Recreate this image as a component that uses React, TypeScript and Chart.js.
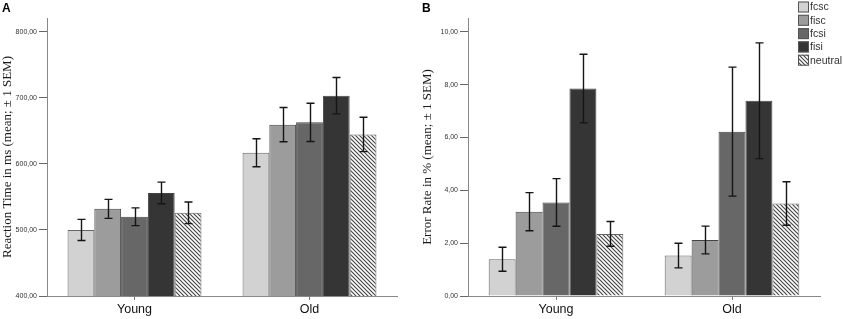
import React, { useEffect, useRef } from 'react';
import { Chart, registerables } from 'chart.js';
Chart.register(...registerables);

const groups = ['Young', 'Old'];
const conditions = ['fcsc', 'fisc', 'fcsi', 'fisi', 'neutral'];
const conditionColors = ['#d2d2d2', '#9c9c9c', '#676767', '#353535', 'hatch'];

const rtYoung = [500, 532, 520, 556, 526];
const rtYoungSem = [16, 14.4, 13.4, 16.4, 16.4];
const rtOld = [617, 659.5, 663, 703.3, 644.7];
const rtOldSem = [21.2, 26, 29, 27.5, 26];
const rtTicks = [400, 500, 600, 700, 800];

const erYoung = [1.39, 3.19, 3.54, 7.85, 2.35];
const erYoungSem = [0.455, 0.72, 0.9, 1.3, 0.47];
const erOld = [1.53, 2.12, 6.22, 7.39, 3.5];
const erOldSem = [0.465, 0.525, 2.44, 2.19, 0.825];
const erTicks = [0, 2, 4, 6, 8, 10];

function makeHatch(): CanvasPattern | string {
  const c = document.createElement('canvas');
  c.width = 4;
  c.height = 4;
  const g = c.getContext('2d');
  if (!g) return '#999';
  g.fillStyle = '#ffffff';
  g.fillRect(0, 0, 4, 4);
  g.strokeStyle = '#484848';
  g.lineWidth = 1.2;
  g.beginPath();
  g.moveTo(-1, -1); g.lineTo(5, 5);
  g.moveTo(-1, 3); g.lineTo(1, 5);
  g.moveTo(3, -1); g.lineTo(5, 1);
  g.stroke();
  const p = g.createPattern(c, 'repeat');
  return p || '#999';
}

const errorBarPlugin = {
  id: 'errorBars',
  afterDatasetsDraw(chart: any) {
    const ctx = chart.ctx;
    const yScale = chart.scales.y;
    ctx.save();
    ctx.strokeStyle = '#151515';
    ctx.lineWidth = 1.4;
    chart.data.datasets.forEach((ds: any, i: number) => {
      const meta = chart.getDatasetMeta(i);
      meta.data.forEach((bar: any, j: number) => {
        const m = ds.data[j];
        const s = ds.sem[j];
        const yt = yScale.getPixelForValue(m + s);
        const yb = yScale.getPixelForValue(m - s);
        const x = Math.round(bar.x) + 0.5;
        ctx.beginPath();
        ctx.moveTo(x, yt); ctx.lineTo(x, yb);
        ctx.moveTo(x - 4, yt); ctx.lineTo(x + 4, yt);
        ctx.moveTo(x - 4, yb); ctx.lineTo(x + 4, yb);
        ctx.stroke();
      });
    });
    ctx.restore();
  },
};

const panelLetterPlugin = {
  id: 'panelLetter',
  afterDraw(chart: any) {
    const opts = chart.options.plugins.panelLetter;
    if (!opts) return;
    const ctx = chart.ctx;
    ctx.save();
    ctx.fillStyle = '#000';
    ctx.font = "bold 12px 'Liberation Sans', Arial, sans-serif";
    ctx.textBaseline = 'alphabetic';
    ctx.fillText(opts.text, 2, 12);
    ctx.restore();
  },
};

const boxLegendPlugin = {
  id: 'boxLegend',
  afterDraw(chart: any) {
    const opts = chart.options.plugins.boxLegend;
    if (!opts || !opts.show) return;
    const ctx = chart.ctx;
    ctx.save();
    ctx.font = "10.5px 'Liberation Sans', Arial, sans-serif";
    ctx.textBaseline = 'middle';
    chart.data.datasets.forEach((ds: any, i: number) => {
      const x = 378;
      const y = 1.5 + i * 13.3;
      ctx.fillStyle = ds.backgroundColor;
      ctx.fillRect(x, y, 11, 11);
      ctx.strokeStyle = '#555';
      ctx.lineWidth = 1;
      ctx.strokeRect(x + 0.5, y + 0.5, 10, 10);
      ctx.fillStyle = '#333';
      ctx.fillText(ds.label, x + 12, y + 6);
    });
    ctx.restore();
  },
};

type PanelProps = {
  width: number;
  letter: string;
  yTitle: string;
  young: number[];
  youngSem: number[];
  old: number[];
  oldSem: number[];
  ticks: number[];
  min: number;
  max: number;
  axisWidth: number;
  legend: boolean;
};

function Panel(props: PanelProps) {
  const ref = useRef<HTMLCanvasElement | null>(null);
  useEffect(() => {
    const canvas = ref.current;
    if (!canvas) return;
    const hatch = makeHatch();
    const datasets = conditions.map((c, i) => ({
      label: c,
      data: [props.young[i], props.old[i]],
      sem: [props.youngSem[i], props.oldSem[i]],
      backgroundColor: conditionColors[i] === 'hatch' ? hatch : conditionColors[i],
      borderColor: i === 0 || i === 4 ? '#666' : '#444',
      borderWidth: 1,
      borderSkipped: 'bottom',
      barPercentage: 1,
      categoryPercentage: 0.765,
    }));
    const tickVals = props.ticks;
    const chart = new Chart(canvas, {
      type: 'bar',
      data: { labels: groups, datasets: datasets as any },
      options: {
        animation: false,
        responsive: false,
        layout: { padding: { top: 18, right: 23, bottom: 0, left: 0 } },
        plugins: {
          legend: { display: false },
          tooltip: { enabled: false },
          panelLetter: { text: props.letter },
          boxLegend: { show: props.legend },
        } as any,
        scales: {
          x: {
            offset: true,
            grid: {
              display: true,
              drawOnChartArea: false,
              drawTicks: true,
              tickLength: 4,
              offset: false,
              color: '#777',
            },
            border: { display: true, color: '#888', width: 1 },
            ticks: {
              color: '#111',
              padding: 2,
              font: { family: "'Liberation Sans', Arial, sans-serif", size: 12.5 },
            },
            afterFit: (s: any) => { s.height = 23; },
          },
          y: {
            min: props.min,
            max: props.max,
            grid: {
              display: true,
              drawOnChartArea: false,
              drawTicks: true,
              tickLength: 8,
              color: '#666',
            },
            border: { display: true, color: '#888', width: 1 },
            afterBuildTicks: (axis: any) => {
              axis.ticks = tickVals.map((v) => ({ value: v }));
            },
            ticks: {
              color: '#333',
              padding: 2,
              font: { family: "'Liberation Sans', Arial, sans-serif", size: 7 },
              callback: (v: any) => Number(v).toFixed(2).replace('.', ','),
            },
            title: {
              display: true,
              text: props.yTitle,
              color: '#1a1a1a',
              padding: 0,
              font: { family: "'Liberation Serif', 'Times New Roman', serif", size: 13 },
            },
            afterFit: (s: any) => { s.width = props.axisWidth; },
          },
        },
      },
      plugins: [errorBarPlugin, panelLetterPlugin, boxLegendPlugin],
    } as any);
    return () => chart.destroy();
  }, []);
  return <canvas ref={ref} width={props.width} height={319} style={{ display: 'block', width: props.width, height: 319 }} />;
}

export default function App() {
  return (
    <div style={{ position: 'absolute', left: 0, top: 0, width: 843, height: 319, display: 'flex', background: '#fff' }}>
      <Panel
        width={420}
        letter="A"
        yTitle="Reaction Time in ms (mean; ± 1 SEM)"
        young={rtYoung}
        youngSem={rtYoungSem}
        old={rtOld}
        oldSem={rtOldSem}
        ticks={rtTicks}
        min={400}
        max={821}
        axisWidth={47}
        legend={false}
      />
      <Panel
        width={423}
        letter="B"
        yTitle="Error Rate in % (mean; ± 1 SEM)"
        young={erYoung}
        youngSem={erYoungSem}
        old={erOld}
        oldSem={erOldSem}
        ticks={erTicks}
        min={0}
        max={10.52}
        axisWidth={48}
        legend={true}
      />
    </div>
  );
}
